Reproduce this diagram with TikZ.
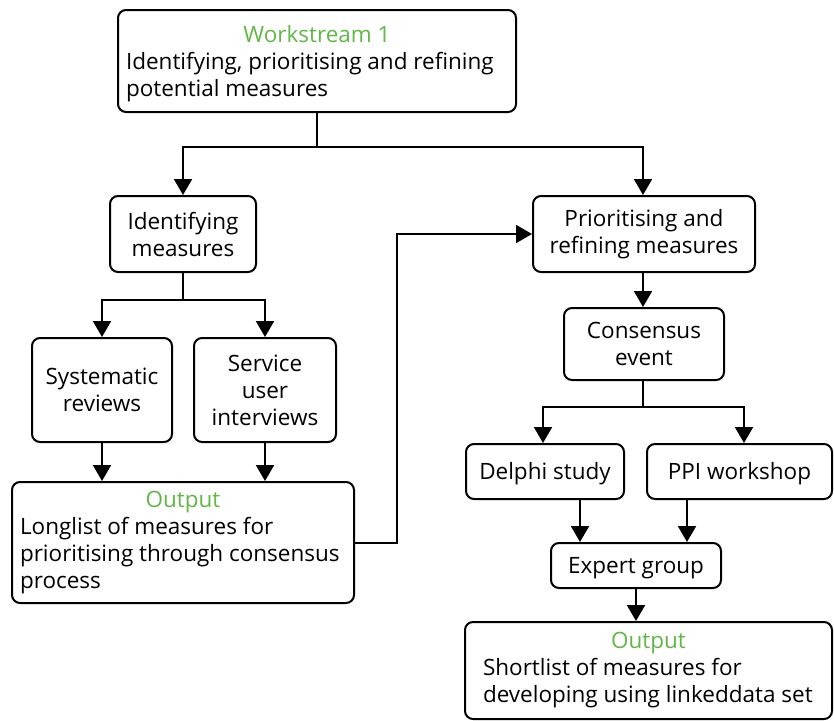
\documentclass[tikz,border=0pt]{standalone}
\usepackage{fontspec}
\setmainfont{Open Sans}
\usetikzlibrary{arrows.meta}
\definecolor{wgreen}{RGB}{98,182,72}
\tikzset{
  box/.style={draw, line width=2pt, rounded corners=8pt, inner sep=0pt, align=center,
    font=\fontsize{22.5}{27}\selectfont},
  onebox/.style={box, text height=16pt, text depth=0pt},
  arr/.style={line width=2pt, -{Triangle[width=18pt,length=16pt]}},
  ln/.style={line width=2pt}
}
\begin{document}
\begin{tikzpicture}[x=1pt,y=-1pt]
\useasboundingbox (0,0) rectangle (834,720);
% boxes
\node[box, minimum width=398, minimum height=102, text width=382, align=none] (ws) at (317,61)
  {\centering\rule{0pt}{23pt}\textcolor{wgreen}{Workstream 1}\par\raggedright Identifying, prioritising and refining\\ potential measures\par};
\node[box, minimum width=146, minimum height=76] (idm) at (183,234) {Identifying\\ measures};
\node[box, minimum width=222, minimum height=76] (prm) at (644,234) {Prioritising and\\ refining measures};
\node[box, minimum width=140, minimum height=104] (sys) at (102,390) {Systematic\\ reviews};
\node[box, minimum width=142, minimum height=104] (svc) at (265,390) {Service\\ user\\ interviews};
\node[box, minimum width=342, minimum height=121, text width=326, align=none] (out1) at (183,542.5)
  {\centering\textcolor{wgreen}{Output}\par\raggedright Longlist of measures for\\ prioritising through consensus\\ process\par};
\node[box, minimum width=160, minimum height=72] (con) at (644,344) {Consensus\\ event};
\node[onebox, minimum width=158, minimum height=55] (del) at (545,471.5) {Delphi study};
\node[onebox, minimum width=185, minimum height=55] (ppi) at (739.5,471.5) {PPI workshop};
\node[onebox, minimum width=170, minimum height=45] (exp) at (636,565.5) {Expert group};
\node[box, minimum width=367, minimum height=97, text width=331, align=none] (out2) at (648.5,670.5)
  {\centering\textcolor{wgreen}{Output}\par\raggedright Shortlist of measures for\\ developing using linkeddata set\par};
% connectors
\draw[ln] (ws.south) -- (317,147) coordinate (j1);
\draw[arr] (j1) -| ([xshift=-1pt]prm.north);
\draw[arr] (j1) -| (idm.north);
\draw[ln] (idm.south) -- (183,300) coordinate (j2);
\draw[arr] (j2) -| (sys.north);
\draw[arr] (j2) -| (svc.north);
\draw[arr] (sys.south) -- (sys.south |- out1.north);
\draw[arr] (svc.south) -- (svc.south |- out1.north);
\draw[arr] (out1.east) -- (397,542.5) |- (prm.west);
\draw[arr] ([xshift=-1pt]prm.south) -- ([xshift=-1pt]con.north);
\draw[ln] ([xshift=-1pt]con.south) -- (643,407) coordinate (j3);
\draw[arr] (j3) -| ([xshift=-2pt]del.north);
\draw[arr] (j3) -| ([xshift=4.5pt]ppi.north);
\draw[arr] ([xshift=35pt]del.south) -- ([xshift=35pt]del.south |- exp.north);
\draw[arr] ([xshift=-52.5pt]ppi.south) -- ([xshift=-52.5pt]ppi.south |- exp.north);
\draw[arr] (exp.south) -- (exp.south |- out2.north);
\end{tikzpicture}
\end{document}
